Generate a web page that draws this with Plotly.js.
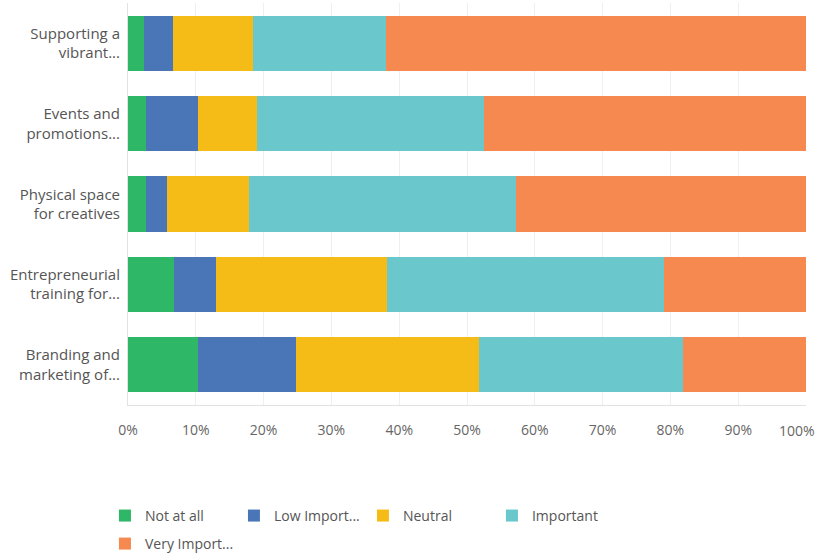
<!DOCTYPE html>
<html>
<head>
<meta charset="utf-8">
<script src="https://cdn.plot.ly/plotly-3.0.1.min.js"></script>
<style>html,body{margin:0;padding:0;background:#fff;}#chart{width:818px;height:556px;}</style>
</head>
<body>
<div id="chart"></div>
<script>
var categories = ["Supporting a<br>vibrant...", "Events and<br>promotions...", "Physical space<br>for creatives", "Entrepreneurial<br>training for...", "Branding and<br>marketing of..."];
var seriesNames = ["Not at all", "Low Import...", "Neutral", "Important", "Very Import..."];
var notAtAll = [2.4, 2.6, 2.6, 6.8, 10.3];
var lowImportance = [4.2, 7.7, 3.1, 6.2, 14.5];
var neutral = [11.9, 8.7, 12.2, 25.2, 26.9];
var important = [19.5, 33.5, 39.3, 40.9, 30.1];
var veryImportant = [62.0, 47.5, 42.8, 20.9, 18.2];
var tickValues = [0, 10, 20, 30, 40, 50, 60, 70, 80, 90, 100];
var tickLabels = ["0%", "10%", "20%", "30%", "40%", "50%", "60%", "70%", "80%", "90%", ""];
var lastTickLabel = "100%";
var colors = ["#2DB767", "#4A76B8", "#F5BC17", "#6AC7CC", "#F5894F"];

var series = [notAtAll, lowImportance, neutral, important, veryImportant];
var traces = series.map(function (vals, i) {
  return {
    type: "bar",
    orientation: "h",
    name: seriesNames[i],
    x: vals,
    y: categories,
    marker: { color: colors[i], line: { width: 0 } },
    legend: i === 4 ? "legend2" : "legend",
    hoverinfo: "x+name"
  };
});

var layout = {
  width: 818,
  height: 556,
  margin: { l: 128, r: 12, t: 3, b: 151, autoexpand: false },
  paper_bgcolor: "#fff",
  plot_bgcolor: "#fff",
  barmode: "stack",
  bargap: 0.315,
  font: { family: "Open Sans, sans-serif", color: "#555" },
  xaxis: {
    range: [0, 100],
    tickmode: "array",
    tickvals: tickValues,
    ticktext: tickLabels,
    showgrid: true,
    gridcolor: "#efefef",
    zeroline: false,
    showline: true,
    linecolor: "#e2e2e2",
    ticks: "",
    ticklabelstandoff: 12,
    tickfont: { size: 14, color: "#666" },
    automargin: false,
    fixedrange: true
  },
  yaxis: {
    autorange: "reversed",
    showgrid: false,
    zeroline: false,
    showline: true,
    linecolor: "#e2e2e2",
    ticks: "",
    ticklabelstandoff: 4,
    tickfont: { size: 15, color: "#555" },
    automargin: false,
    fixedrange: true
  },
  annotations: [{
    xref: "paper", yref: "paper",
    x: 1, y: 0,
    xanchor: "right", yanchor: "top",
    xshift: 11, yshift: -14,
    text: lastTickLabel,
    showarrow: false,
    font: { size: 14, color: "#666", family: "Open Sans, sans-serif" }
  }],
  showlegend: true,
  legend: {
    orientation: "h",
    x: -0.034,
    xanchor: "left",
    y: -0.276,
    yanchor: "middle",
    traceorder: "normal",
    entrywidth: 84,
    font: { size: 14, color: "#555" },
    bgcolor: "rgba(0,0,0,0)"
  },
  legend2: {
    orientation: "h",
    x: -0.034,
    xanchor: "left",
    y: -0.3457,
    yanchor: "middle",
    font: { size: 14, color: "#555" },
    bgcolor: "rgba(0,0,0,0)"
  }
};

Plotly.newPlot("chart", traces, layout, { displayModeBar: false, staticPlot: true });
</script>
</body>
</html>
